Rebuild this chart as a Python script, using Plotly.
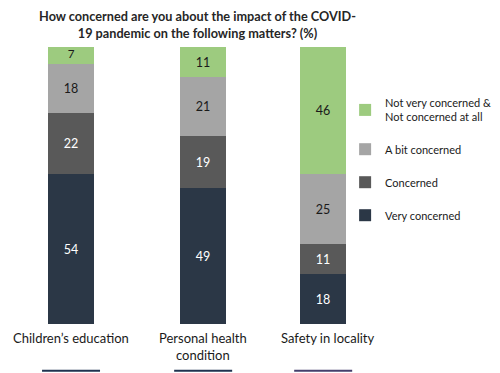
import plotly.graph_objects as go

CATEGORIES = ["Children’s education", "Personal health<br>condition", "Safety in locality"]
SERIES = ["Very concerned", "Concerned", "A bit concerned",
          "Not very concerned &<br>Not concerned at all"]
VERY = [54, 49, 18]
CONCERNED = [22, 19, 11]
A_BIT = [18, 21, 25]
NOT_VERY = [7, 11, 46]
TITLE = "How concerned are you about the impact of the COVID-<br>19 pandemic on the following matters? (%)"

VALUES = [VERY, CONCERNED, A_BIT, NOT_VERY]
COLORS = ["#2b3746", "#595959", "#a5a5a5", "#9dcb7f"]
TEXT_COLORS = ["white", "white", "#1a1a1a", "#1a1a1a"]

FONT = "Lato, 'Open Sans', sans-serif"
BAR_W = 0.365
SHIFTS = [0.0, 0.048, 0.0]          # slight horizontal shifts (category units)
LABEL_SHIFTS = [0, 6, 5]            # pixel shifts for category labels
LINE_COLORS = ["#1f3350", "#1f3350", "#443f6c"]

fig = go.Figure()
idx = list(range(len(CATEGORIES)))
for k, (name, vals, col, tcol) in enumerate(zip(SERIES, VALUES, COLORS, TEXT_COLORS)):
    fig.add_trace(go.Bar(
        x=idx, y=vals, name=name, legendgroup=name, legendrank=1000 - k,
        marker=dict(color=col, line=dict(width=0)),
        width=BAR_W, offset=[-BAR_W / 2 + s for s in SHIFTS],
        text=[str(v) for v in vals], textposition="inside",
        insidetextanchor="middle", textangle=0,
        textfont=dict(color=tcol, size=12.5, family=FONT),
        hoverinfo="skip",
    ))

annotations = []
for i, (cat, dx) in enumerate(zip(CATEGORIES, LABEL_SHIFTS)):
    annotations.append(dict(
        x=i, xref="x", y=0, yref="paper", yanchor="top", yshift=-4, xshift=dx,
        text=cat, showarrow=False, align="center",
        font=dict(size=13, color="#1a1a1a", family=FONT)))

shapes = []
for i, (s, c) in enumerate(zip(SHIFTS, LINE_COLORS)):
    shapes.append(dict(type="line", xref="x", yref="paper",
                       x0=i + s - 0.23, x1=i + s + 0.23, y0=-0.169, y1=-0.169,
                       line=dict(color=c, width=2)))

fig.update_layout(
    width=500, height=373,
    margin=dict(l=8, r=139, t=47, b=49, autoexpand=False),
    barmode="stack", bargap=0,
    paper_bgcolor="white", plot_bgcolor="white",
    title=dict(text=TITLE, x=0.395, xanchor="center", y=1 - 21 / 373, yanchor="middle",
               font=dict(size=12.7, color="#262626", family=FONT, weight="bold")),
    xaxis=dict(range=[-0.5, 2.3], showticklabels=False, showgrid=False,
               zeroline=False, showline=False, ticks=""),
    yaxis=dict(range=[0, 100], visible=False, showgrid=False, zeroline=False),
    legend=dict(x=0.955, xanchor="left", y=0.848, yanchor="top",
                traceorder="grouped", tracegroupgap=14,
                font=dict(size=11, color="#1a1a1a", family=FONT),
                bgcolor="rgba(0,0,0,0)"),
    annotations=annotations, shapes=shapes,
    showlegend=True,
)

fig.write_html("out.html", config={"displayModeBar": False},
               post_script="document.body.style.margin='0';")
